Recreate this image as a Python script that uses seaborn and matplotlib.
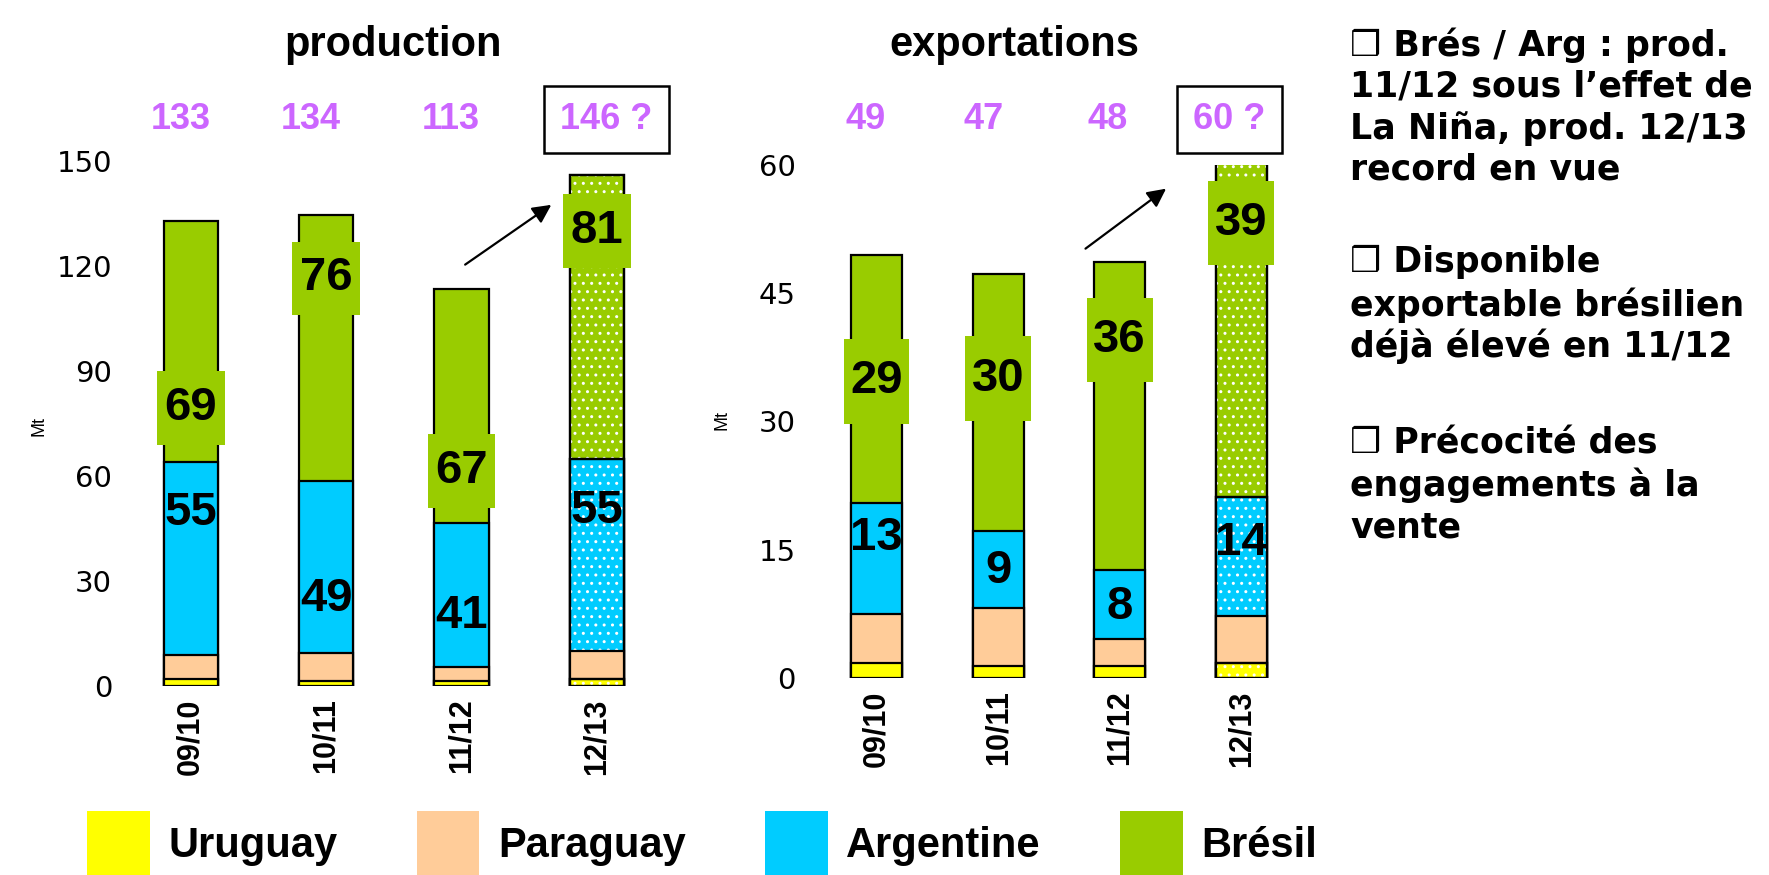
import pandas as pd
import numpy as np
import matplotlib.pyplot as plt
import seaborn as sns
from matplotlib.patches import Patch, Rectangle

# -------------------------------
# Data (Mt)
# -------------------------------
seasons = ["09/10", "10/11", "11/12", "12/13"]
countries = ["Uruguay", "Paraguay", "Argentine", "Brésil"]

prod_uruguay = [2, 1.5, 1.5, 2]
prod_paraguay = [7, 8, 4, 8]
prod_argentine = [55, 49, 41, 55]
prod_bresil = [69, 76, 67, 81]
prod_totals = ["133", "134", "113", "146 ?"]

exp_uruguay = [1.7, 1.4, 1.4, 1.7]
exp_paraguay = [5.8, 6.8, 3.2, 5.5]
exp_argentine = [13, 9, 8, 14]
exp_bresil = [29, 30, 36, 39]
exp_totals = ["49", "47", "48", "60 ?"]

colors = {"Uruguay": "#FFFF00", "Paraguay": "#FFCC99",
          "Argentine": "#00CCFF", "Brésil": "#99CC00"}
purple = "#CC66FF"

# label placement (y in data units) for the value labels
prod_bre_label_y = [79.5, 116.5, 61.5, 130]
prod_arg_label_y = [49.5, 25, 20, 50]
exp_bre_label_y = [34.7, 35, 39.5, 53.2]
exp_arg_label_y = [16.4, 12.5, 8.3, 15.8]
# horizontal shift of the totals above the bars
prod_tot_dx = [-0.075, -0.11, -0.08, 0.07]
exp_tot_dx = [-0.09, -0.12, -0.1, -0.1]

notes = [
    ["\u2752 Brés / Arg : prod.", "11/12 sous l\u2019effet de",
     "La Niña, prod. 12/13", "record en vue"],
    ["\u2752 Disponible", "exportable brésilien", "déjà élevé en 11/12"],
    ["\u2752 Précocité des", "engagements à la", "vente"],
]
note_rows = [[45, 87, 129, 169], [262, 305, 346], [443, 485, 527]]

sns.set_theme(style="white")
plt.rcParams["font.family"] = ["Liberation Sans", "DejaVu Sans"]
plt.rcParams["text.color"] = "black"
plt.rcParams["xtick.color"] = "black"
plt.rcParams["ytick.color"] = "black"

fig = plt.figure(figsize=(17.69, 8.75), dpi=100)
ax_p = fig.add_axes([0.0657, 0.216, 0.310, 0.5997])
ax_e = fig.add_axes([0.4578, 0.2251, 0.2782, 0.5866])


def stacked(ax, uru, par, arg, bre, width, ymax, ystep, pad):
    df = pd.DataFrame({"season": seasons, "Uruguay": uru, "Paraguay": par,
                       "Argentine": arg, "Brésil": bre})
    cum = df[countries].cumsum(axis=1)
    # draw from the top layer down so that each layer covers the one above
    for k, c in enumerate(reversed(countries)):
        z = 2 + k
        sns.barplot(x=df["season"], y=cum[c], color=colors[c], saturation=1,
                    width=width, edgecolor="black", linewidth=1.6, ax=ax, zorder=z)
        if c != "Paraguay":
            # dotted pattern for the forecast season
            ax.bar(3, cum[c].iloc[3], width=width, facecolor="none",
                   edgecolor="white", hatch="..", linewidth=0, zorder=z + 0.3)
            ax.bar(3, cum[c].iloc[3], width=width, facecolor="none",
                   edgecolor="black", linewidth=1.6, zorder=z + 0.6)
    ax.set_xlim(-0.55, 3.5)
    ax.set_ylim(0, ymax)
    ax.set_yticks(np.arange(0, ymax + 1, ystep))
    ax.set_xlabel("")
    ax.set_ylabel("")
    for s in ax.spines.values():
        s.set_visible(False)
    ax.tick_params(axis="y", length=0, pad=pad)
    ax.tick_params(axis="x", length=0, pad=9)
    for t in ax.get_yticklabels():
        t.set_fontfamily("DejaVu Sans")
        t.set_fontsize(21)
    ax.set_xticks(range(4))
    ax.set_xticklabels(seasons, rotation=90, fontsize=22, fontweight="bold")
    return cum


def labels(ax, bre, arg, bre_y, arg_y, box_w, box_h, totals, tot_y, tot_dx):
    for i in range(4):
        ax.add_patch(Rectangle((i - box_w / 2, bre_y[i] - box_h / 2), box_w, box_h,
                               facecolor=colors["Brésil"], edgecolor="none", zorder=8))
        ax.text(i, bre_y[i], str(bre[i]), ha="center", va="center", fontsize=34,
                fontweight="bold", zorder=9)
        ax.text(i, arg_y[i], str(arg[i]), ha="center", va="center", fontsize=34,
                fontweight="bold", zorder=9)
        box = None
        if i == 3:
            box = dict(boxstyle="square,pad=0.45", facecolor="white",
                       edgecolor="black", linewidth=1.8)
        ax.text(i + tot_dx[i], tot_y, totals[i], ha="center", va="center", fontsize=26,
                fontweight="bold", color=purple, bbox=box, clip_on=False)


stacked(ax_p, prod_uruguay, prod_paraguay, prod_argentine, prod_bresil, 0.40, 150, 30, 3)
stacked(ax_e, exp_uruguay, exp_paraguay, exp_argentine, exp_bresil, 0.42, 60, 15, 10)

labels(ax_p, prod_bresil, prod_argentine, prod_bre_label_y, prod_arg_label_y,
       0.5, 21, prod_totals, 162, prod_tot_dx)
labels(ax_e, exp_bresil, exp_argentine, exp_bre_label_y, exp_arg_label_y,
       0.54, 9.9, exp_totals, 65.3, exp_tot_dx)

# arrows pointing to the record season
for ax, start, end in [(ax_p, (2.01, 120), (2.68, 138)), (ax_e, (1.70, 50), (2.40, 57.4))]:
    ax.annotate("", xy=end, xytext=start,
                arrowprops=dict(arrowstyle="-|>", color="black", lw=1.6,
                                mutation_scale=28), zorder=10)

# titles and axis units
fig.text(393 / 1769, 1 - 45 / 875, "production", ha="center", va="center",
         fontsize=30, fontweight="bold")
fig.text(1014 / 1769, 1 - 45 / 875, "exportations", ha="center", va="center",
         fontsize=30, fontweight="bold")
fig.text(39 / 1769, 1 - 426 / 875, "Mt", rotation=90, ha="center", va="center", fontsize=13)
fig.text(722 / 1769, 1 - 420 / 875, "Mt", rotation=90, ha="center", va="center", fontsize=13)

# legend
handles = [Patch(facecolor=colors[c], edgecolor="none") for c in countries]
fig.legend(handles, countries, loc="center", bbox_to_anchor=(0.397, 0.036),
           ncol=4, frameon=False, prop=dict(size=30, weight="bold"),
           handlelength=1.5, handleheight=2.0, handletextpad=0.45,
           columnspacing=1.9)

# comments on the right
for lines, rows in zip(notes, note_rows):
    for t, y in zip(lines, rows):
        fig.text(1350 / 1769, 1 - y / 875, t, ha="left", va="center",
                 fontsize=25, fontweight="bold", family="DejaVu Sans")

fig.savefig("out.png", dpi=100)
